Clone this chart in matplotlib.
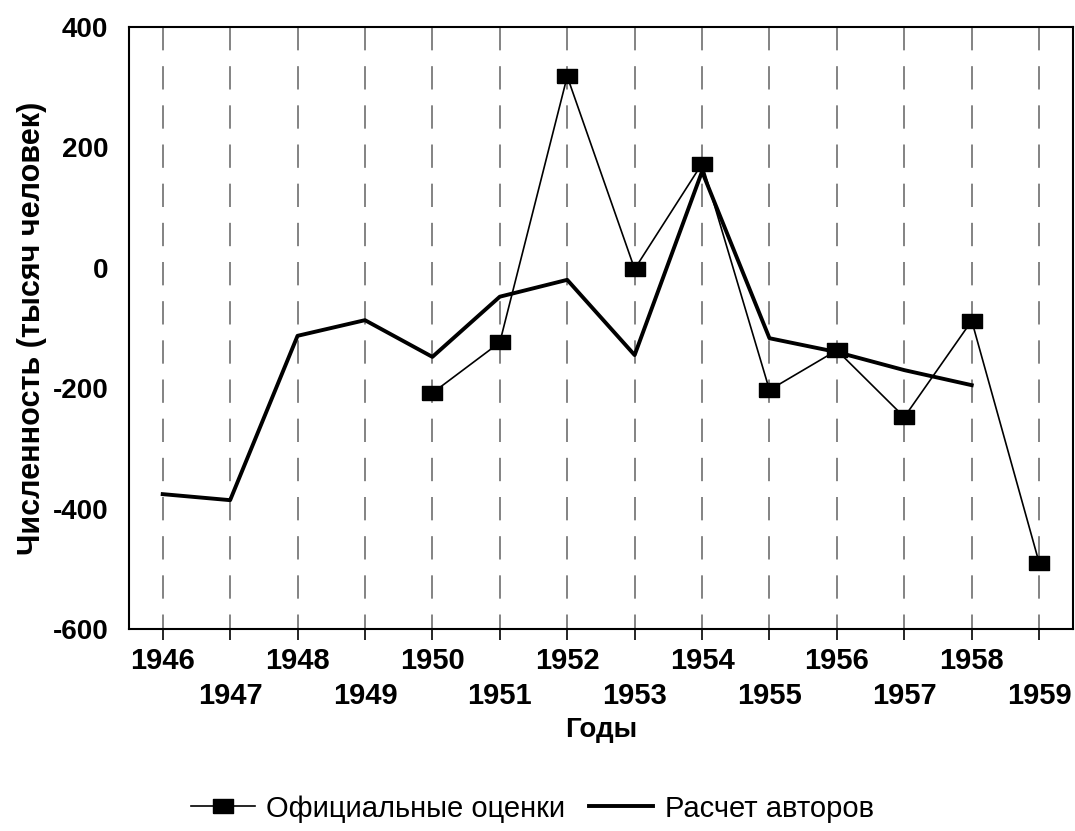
import numpy as np
import matplotlib.pyplot as plt
from matplotlib.path import Path

plt.rcParams['font.family'] = ['Liberation Sans', 'DejaVu Sans']

# data
years = list(range(1946, 1960))
official_years = [1950, 1951, 1952, 1953, 1954, 1955, 1956, 1957, 1958, 1959]
official = [-208, -124, 318, -2, 173, -203, -137, -248, -88, -490]
authors_years = [1946, 1947, 1948, 1949, 1950, 1951, 1952, 1953, 1954, 1955, 1956, 1957, 1958]
authors = [-376, -386, -113, -87, -148, -48, -20, -145, 160, -117, -140, -170, -195]
yticks = [400, 200, 0, -200, -400, -600]

fig = plt.figure(figsize=(10.75, 8.31), dpi=100)
ax = fig.add_axes([0.12, 0.2431, 0.878, 0.7244])

# vertical dashed grid, starting from the top
for yr in years:
    ax.plot([yr, yr], [400, -600], color='#6e6e6e', lw=1.2,
            dashes=(14, 9.5), zorder=1)

rect = Path([(-1, -0.72), (1, -0.72), (1, 0.72), (-1, 0.72), (-1, -0.72)])
ax.plot(official_years, official, color='black', lw=1.2, marker=rect,
        markersize=14, label='Официальные оценки', zorder=3)
ax.plot(authors_years, authors, color='black', lw=2.8,
        label='Расчет авторов', zorder=2)

ax.set_xlim(1945.5, 1959.5)
ax.set_ylim(-600, 400)
ax.set_yticks(yticks)
ax.set_yticklabels([str(v) for v in yticks], fontsize=20, fontweight='bold')
ax.tick_params(axis='y', length=0, pad=15)

ax.set_xticks(years)
ax.set_xticklabels([str(y) if (y - 1946) % 2 == 0 else '\n' + str(y) for y in years],
                   fontsize=21, fontweight='bold', linespacing=1.32)
ax.tick_params(axis='x', direction='out', length=8, width=1.2, pad=5)

for s in ax.spines.values():
    s.set_linewidth(1.5)

ax.set_xlabel('Годы', fontsize=20, fontweight='bold', labelpad=5)
ax.set_ylabel('Численность (тысяч человек)', fontsize=22, fontweight='bold', labelpad=4)

fig.legend(loc='center', bbox_to_anchor=(0.495, 0.027), ncol=2, frameon=False,
           fontsize=21, handlelength=2.2, columnspacing=0.8, handletextpad=0.4)

fig.savefig('out.png', dpi=100)
